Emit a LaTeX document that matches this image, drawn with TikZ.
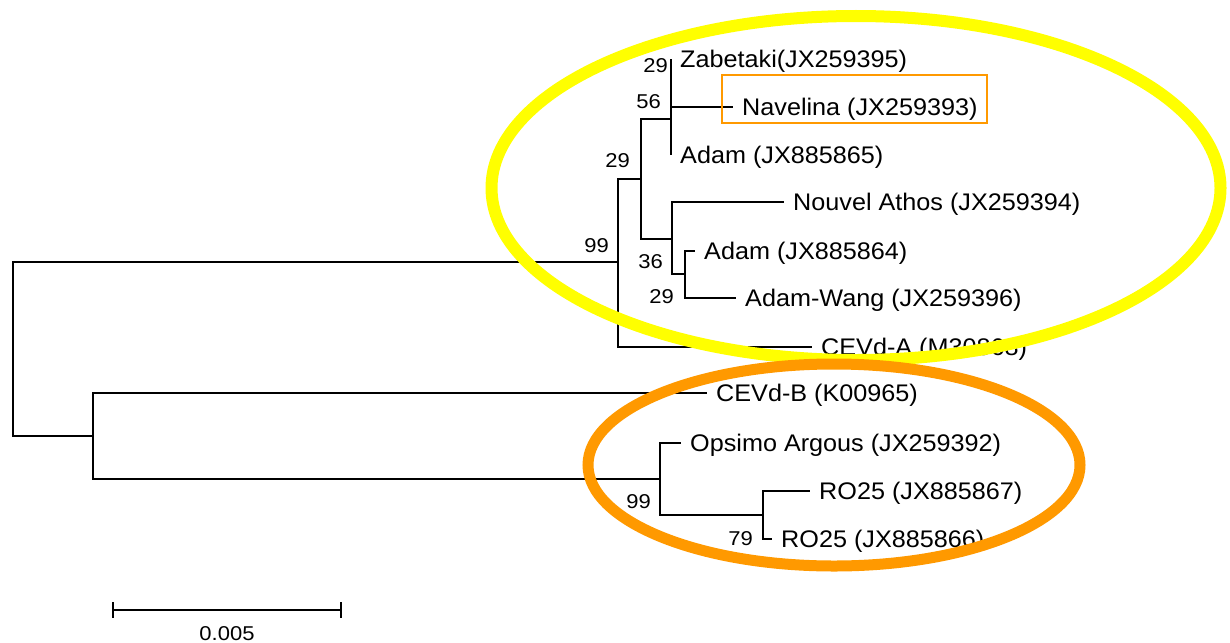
\documentclass[tikz,border=0pt]{standalone}
\usepackage{fontspec}
\setmainfont{Liberation Sans}
\newfontfamily\leaffont[FakeStretch=1.05]{Liberation Sans}
\newfontfamily\numfont[FakeStretch=1.1]{Liberation Sans}
\definecolor{hlyellow}{RGB}{255,255,0}
\definecolor{hlorange}{RGB}{255,153,0}
\tikzset{
  branch/.style={line width=1.3pt, black},
  leaf/.style={anchor=west, inner xsep=9pt, inner ysep=0pt,
    text height=18pt, text depth=2pt, font=\leaffont\fontsize{24}{28}\selectfont},
  boot/.style={anchor=base east, inner sep=0pt, font=\numfont\fontsize{20}{24}\selectfont},
  ring/.style={line width=#1},
}
\begin{document}
\begin{tikzpicture}[x=1pt,y=-1pt]
\useasboundingbox (0,0) rectangle (1230,642);

% internal nodes of the tree (x = depth, y = incoming branch)
\coordinate (root) at (13,349);
\coordinate (n99a) at (618,262);
\coordinate (nB)   at (93,436);
\coordinate (n29a) at (641,179);
\coordinate (n56)  at (671,119);
\coordinate (n36)  at (672,239);
\coordinate (n29c) at (685,274);
\coordinate (n99b) at (660,479);
\coordinate (n79)  at (763,515);

% leaves
\node[leaf] (zab)   at (671,59)  {Zabetaki(JX259395)};
\node[leaf] (nav)   at (733,107) {Navelina (JX259393)};
\node[leaf] (ad865) at (671,155) {Adam (JX885865)};
\node[leaf] (athos) at (784,202) {Nouvel Athos (JX259394)};
\node[leaf] (ad864) at (695,251) {Adam (JX885864)};
\node[leaf] (wang)  at (736,298) {Adam-Wang (JX259396)};
\node[leaf] (cevda) at (812,347) {CEVd-A (M30868)};
\node[leaf] (cevdb) at (707,393) {CEVd-B (K00965)};
\node[leaf] (opsi)  at (681,443) {Opsimo Argous (JX259392)};
\node[leaf] (ro867) at (810,491) {RO25 (JX885867)};
\node[leaf] (ro866) at (772,539) {RO25 (JX885866)};

% branches
\draw[branch] (root) |- (n99a);
\draw[branch] (root) |- (nB);
\draw[branch] (n99a) |- (n29a);
\draw[branch] (n99a) |- (cevda.west);
\draw[branch] (n29a) |- (n56);
\draw[branch] (n29a) |- (n36);
\draw[branch] (n56) -- (zab.west);
\draw[branch] (n56) -- (ad865.west);
\draw[branch] (n56) |- (nav.west);
\draw[branch] (n36) |- (athos.west);
\draw[branch] (n36) |- (n29c);
\draw[branch] (n29c) |- (ad864.west);
\draw[branch] (n29c) |- (wang.west);
\draw[branch] (nB) |- (cevdb.west);
\draw[branch] (nB) |- (n99b);
\draw[branch] (n99b) |- (opsi.west);
\draw[branch] (n99b) |- (n79);
\draw[branch] (n79) |- (ro867.west);
\draw[branch] (n79) |- (ro866.west);

% bootstrap values
\node[boot] (b99a) at (609,252) {99};
\node[boot] (b29a) at (630,167) {29};
\node[boot] (b56)  at (661,108) {56};
\node[boot] (b29b) at (668,72)  {29};
\node[boot] (b36)  at (663,268) {36};
\node[boot] (b29c) at (674,303) {29};
\node[boot] (b99b) at (651,508) {99};
\node[boot] (b79)  at (753,545) {79};

% scale bar
\coordinate (sbl) at (113,610);
\coordinate (sbr) at (341,610);
\draw[branch] (sbl) -- (sbr);
\draw[branch] ([yshift=8pt]sbl) -- ([yshift=-8pt]sbl);
\draw[branch] ([yshift=8pt]sbr) -- ([yshift=-8pt]sbr);
\node[anchor=base, inner sep=0pt, font=\numfont\fontsize{20}{24}\selectfont] (sblab) at (227,640) {0.005};

% clade highlights
\draw[hlyellow, ring=12pt] (856,188) ellipse [x radius=364.5, y radius=172];
\draw[hlorange, ring=11pt] (834,465) ellipse [x radius=246, y radius=101];
\draw[hlorange, line width=1.6pt] (722,75) rectangle (987,123);
\end{tikzpicture}
\end{document}
